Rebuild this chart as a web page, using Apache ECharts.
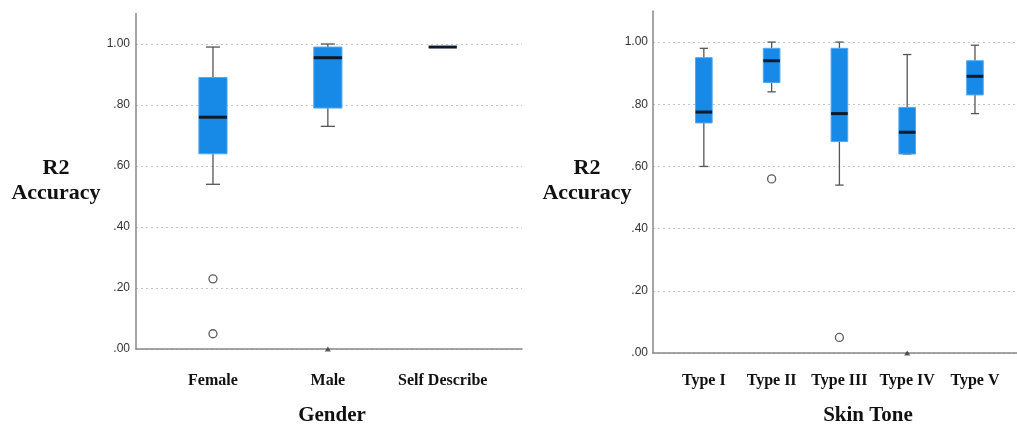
<!DOCTYPE html>
<html>
<head>
<meta charset="utf-8">
<script src="https://cdn.jsdelivr.net/npm/echarts@6/dist/echarts.min.js"></script>
<style>
html,body{margin:0;padding:0;background:#fff;}
#c{width:1017px;height:427px;}
</style>
</head>
<body>
<div id="c"></div>
<script>
// ---- data ----
const genderCats = ['Female', 'Male', 'Self Describe'];
// [min, Q1, median, Q3, max]
const genderBoxes = [
  [0.54, 0.64, 0.76, 0.89, 0.99],
  [0.73, 0.79, 0.955, 0.99, 1.00],
  [0.99, 0.99, 0.99, 0.99, 0.99]
];
const genderOutliers = [[0, 0.23], [0, 0.05]];
const genderExtremes = [[1, 0.00]];

const skinCats = ['Type I', 'Type II', 'Type III', 'Type IV', 'Type V'];
const skinBoxes = [
  [0.60, 0.74, 0.775, 0.95, 0.98],
  [0.84, 0.87, 0.94, 0.98, 1.00],
  [0.54, 0.68, 0.77, 0.98, 1.00],
  [0.64, 0.64, 0.71, 0.79, 0.96],
  [0.77, 0.83, 0.89, 0.94, 0.99]
];
const skinOutliers = [[1, 0.56], [2, 0.05]];
const skinExtremes = [[3, 0.00]];

const yTicks = [0, 0.2, 0.4, 0.6, 0.8, 1.0];
const yMax = 1.1;

// ---- helpers ----
function fmtY(v) {
  const s = Number(v).toFixed(2);
  return s.startsWith('0') ? s.slice(1) : s;
}
function renderBox(params, api) {
  const i = api.value(0);
  const v = [1, 2, 3, 4, 5].map(k => api.value(k));
  const band = api.size([1, 0])[0];
  const bw = band * 0.245;
  const cw = bw / 2;
  const xC = api.coord([i, v[0]])[0];
  const y = val => api.coord([i, val])[1];
  const yMin = y(v[0]), yQ1 = y(v[1]), yMed = y(v[2]), yQ3 = y(v[3]), yMx = y(v[4]);
  const ws = { stroke: '#555', lineWidth: 1.3 };
  return {
    type: 'group',
    children: [
      { type: 'line', shape: { x1: xC, y1: yMx, x2: xC, y2: yQ3 }, style: ws },
      { type: 'line', shape: { x1: xC, y1: yQ1, x2: xC, y2: yMin }, style: ws },
      { type: 'line', shape: { x1: xC - cw / 2, y1: yMx, x2: xC + cw / 2, y2: yMx }, style: ws },
      { type: 'line', shape: { x1: xC - cw / 2, y1: yMin, x2: xC + cw / 2, y2: yMin }, style: ws },
      { type: 'rect', shape: { x: xC - bw / 2, y: yQ3, width: bw, height: yQ1 - yQ3 },
        style: { fill: '#168ae6', stroke: '#52a7ef', lineWidth: 1 } },
      { type: 'line', shape: { x1: xC - bw / 2, y1: yMed, x2: xC + bw / 2, y2: yMed },
        style: { stroke: '#0c1a2c', lineWidth: 3 } }
    ]
  };
}
function xAxisFor(cats, min, max, gridIndex, margin) {
  return {
    type: 'value', gridIndex, min, max,
    axisLine: { show: true, onZero: false, lineStyle: { color: '#888', width: 1.5 } },
    axisTick: { show: false },
    splitLine: { show: false },
    axisLabel: {
      customValues: cats.map((c, i) => i),
      formatter: v => cats[Math.round(v)] || '',
      fontFamily: 'Liberation Serif', fontWeight: 'bold', fontSize: 16,
      color: '#111', margin
    }
  };
}
function yAxisFor(gridIndex, margin) {
  return {
    type: 'value', gridIndex, min: 0, max: yMax,
    axisLine: { show: true, onZero: false, lineStyle: { color: '#888', width: 1.5 } },
    axisTick: { show: false, customValues: yTicks },
    splitLine: { show: true, lineStyle: { color: '#c4c4c4', type: [2, 3], width: 1 } },
    axisLabel: {
      customValues: yTicks, formatter: fmtY,
      fontFamily: 'Liberation Sans', fontSize: 12, color: '#333', margin
    }
  };
}
const outlierStyle = { color: '#fff', borderColor: '#333', borderWidth: 1.3 };

const chart = echarts.init(document.getElementById('c'), null, { renderer: 'canvas' });
chart.setOption({
  animation: false,
  backgroundColor: '#fff',
  grid: [
    { left: 136, top: 13.5, right: 495, bottom: 78 },
    { left: 653, top: 11, right: 0, bottom: 74 }
  ],
  xAxis: [
    xAxisFor(genderCats, -0.67, 2.69, 0, 24),
    xAxisFor(skinCats, -0.75, 4.62, 1, 20)
  ],
  yAxis: [yAxisFor(0, 6), yAxisFor(1, 5)],
  series: [
    { type: 'custom', xAxisIndex: 0, yAxisIndex: 0, renderItem: renderBox,
      data: genderBoxes.map((b, i) => [i, ...b]), z: 3 },
    { type: 'scatter', xAxisIndex: 0, yAxisIndex: 0, symbol: 'circle', symbolSize: 8,
      itemStyle: outlierStyle, data: genderOutliers, z: 4 },
    { type: 'scatter', xAxisIndex: 0, yAxisIndex: 0, symbol: 'triangle', symbolSize: [6, 5],
      itemStyle: { color: '#333' }, data: genderExtremes, clip: false, z: 4 },
    { type: 'custom', xAxisIndex: 1, yAxisIndex: 1, renderItem: renderBox,
      data: skinBoxes.map((b, i) => [i, ...b]), z: 3 },
    { type: 'scatter', xAxisIndex: 1, yAxisIndex: 1, symbol: 'circle', symbolSize: 8,
      itemStyle: outlierStyle, data: skinOutliers, z: 4 },
    { type: 'scatter', xAxisIndex: 1, yAxisIndex: 1, symbol: 'triangle', symbolSize: [6, 5],
      itemStyle: { color: '#333' }, data: skinExtremes, clip: false, z: 4 }
  ],
  graphic: [
    { type: 'text', x: 56, y: 168, style: { text: 'R2', font: 'bold 22px "Liberation Serif"', fill: '#111', align: 'center', verticalAlign: 'middle' } },
    { type: 'text', x: 56, y: 193, style: { text: 'Accuracy', font: 'bold 22px "Liberation Serif"', fill: '#111', align: 'center', verticalAlign: 'middle' } },
    { type: 'text', x: 587, y: 168, style: { text: 'R2', font: 'bold 22px "Liberation Serif"', fill: '#111', align: 'center', verticalAlign: 'middle' } },
    { type: 'text', x: 587, y: 193, style: { text: 'Accuracy', font: 'bold 22px "Liberation Serif"', fill: '#111', align: 'center', verticalAlign: 'middle' } },
    { type: 'text', x: 332, y: 416, style: { text: 'Gender', font: 'bold 21px "Liberation Serif"', fill: '#111', align: 'center', verticalAlign: 'middle' } },
    { type: 'text', x: 868, y: 416, style: { text: 'Skin Tone', font: 'bold 21px "Liberation Serif"', fill: '#111', align: 'center', verticalAlign: 'middle' } }
  ]
});
</script>
</body>
</html>
